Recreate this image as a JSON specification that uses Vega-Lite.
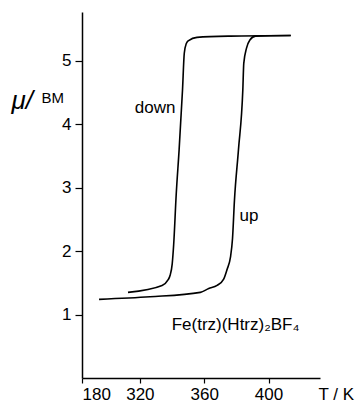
{
  "$schema": "https://vega.github.io/schema/vega-lite/v6.json",
  "autosize": "none",
  "width": 238,
  "height": 366,
  "padding": {"left": 82, "top": 12, "right": 36, "bottom": 25},
  "background": "white",
  "config": {
    "view": {"stroke": null},
    "font": "Liberation Sans",
    "axis": {"grid": false, "domainColor": "black", "tickColor": "black", "labelColor": "black", "titleColor": "black", "labelFont": "Liberation Sans", "titleFont": "Liberation Sans", "domainWidth": 1.5, "tickWidth": 1.2}
  },
  "datasets": {
    "curves": [
      {"branch": "down", "i": 1, "T": 312.6, "mu": 1.35},
      {"branch": "down", "i": 2, "T": 333.8, "mu": 1.46},
      {"branch": "down", "i": 3, "T": 337.6, "mu": 1.55},
      {"branch": "down", "i": 4, "T": 338.8, "mu": 1.62},
      {"branch": "down", "i": 5, "T": 340.1, "mu": 1.8},
      {"branch": "down", "i": 6, "T": 341.0, "mu": 2.1},
      {"branch": "down", "i": 7, "T": 342.6, "mu": 2.9},
      {"branch": "down", "i": 8, "T": 344.4, "mu": 3.6},
      {"branch": "down", "i": 9, "T": 346.5, "mu": 4.54},
      {"branch": "down", "i": 10, "T": 347.6, "mu": 5.12},
      {"branch": "down", "i": 11, "T": 348.8, "mu": 5.27},
      {"branch": "down", "i": 12, "T": 350.3, "mu": 5.32},
      {"branch": "down", "i": 13, "T": 355.5, "mu": 5.37},
      {"branch": "down", "i": 14, "T": 376.3, "mu": 5.39},
      {"branch": "down", "i": 15, "T": 413.8, "mu": 5.4},
      {"branch": "up", "i": 1, "T": 294.6, "mu": 1.24},
      {"branch": "up", "i": 2, "T": 326.3, "mu": 1.28},
      {"branch": "up", "i": 3, "T": 357.6, "mu": 1.35},
      {"branch": "up", "i": 4, "T": 362.8, "mu": 1.41},
      {"branch": "up", "i": 5, "T": 368.0, "mu": 1.46},
      {"branch": "up", "i": 6, "T": 372.1, "mu": 1.56},
      {"branch": "up", "i": 7, "T": 374.3, "mu": 1.72},
      {"branch": "up", "i": 8, "T": 376.3, "mu": 1.9},
      {"branch": "up", "i": 9, "T": 377.6, "mu": 2.2},
      {"branch": "up", "i": 10, "T": 378.8, "mu": 2.8},
      {"branch": "up", "i": 11, "T": 381.3, "mu": 3.6},
      {"branch": "up", "i": 12, "T": 384.0, "mu": 4.54},
      {"branch": "up", "i": 13, "T": 384.6, "mu": 4.96},
      {"branch": "up", "i": 14, "T": 386.3, "mu": 5.2},
      {"branch": "up", "i": 15, "T": 388.4, "mu": 5.33},
      {"branch": "up", "i": 16, "T": 391.9, "mu": 5.39},
      {"branch": "up", "i": 17, "T": 413.8, "mu": 5.4}
    ]
  },
  "layer": [
    {
      "data": {"name": "curves"},
      "mark": {"type": "line", "color": "black", "strokeWidth": 1.6, "interpolate": "monotone"},
      "encoding": {
        "x": {
          "field": "T", "type": "quantitative",
          "scale": {"domain": [284, 432], "nice": false, "zero": false},
          "axis": {
            "values": [284, 320, 360, 400],
            "labelExpr": "datum.value == 284 ? '180' : datum.label",
            "labelFontSize": 17, "tickSize": 5, "labelPadding": 3,
            "title": "T / K", "titleFontSize": 17, "titleFontWeight": "normal",
            "titleAnchor": "start", "titleAlign": "left", "titleX": 236, "titleY": 21, "titleBaseline": "alphabetic"
          }
        },
        "y": {
          "field": "mu", "type": "quantitative",
          "scale": {"domain": [0, 5.77], "nice": false},
          "axis": {
            "values": [1, 2, 3, 4, 5], "format": "d",
            "labelFontSize": 17, "tickSize": 7, "labelPadding": 4,
            "title": "μ/", "titleFontSize": 26, "titleFontStyle": "italic", "titleFontWeight": "normal",
            "titleAngle": 0, "titleAlign": "left", "titleBaseline": "middle", "titleX": -71, "titleY": 88
          }
        },
        "detail": {"field": "branch"},
        "order": {"field": "i"}
      }
    },
    {
      "data": {"values": [{"T": 329.5, "mu": 4.26, "label": "down"}]},
      "mark": {"type": "text", "fontSize": 17, "align": "center", "baseline": "middle", "color": "black"},
      "encoding": {"x": {"field": "T", "type": "quantitative"}, "y": {"field": "mu", "type": "quantitative"}, "text": {"field": "label"}}
    },
    {
      "data": {"values": [{"T": 382.0, "mu": 2.56, "label": "up"}]},
      "mark": {"type": "text", "fontSize": 17, "align": "left", "baseline": "middle", "color": "black"},
      "encoding": {"x": {"field": "T", "type": "quantitative"}, "y": {"field": "mu", "type": "quantitative"}, "text": {"field": "label"}}
    },
    {
      "data": {"values": [{"T": 339.75, "mu": 0.764, "label": "Fe(trz)(Htrz)₂BF₄"}]},
      "mark": {"type": "text", "fontSize": 17, "align": "left", "baseline": "alphabetic", "color": "black"},
      "encoding": {"x": {"field": "T", "type": "quantitative"}, "y": {"field": "mu", "type": "quantitative"}, "text": {"field": "label"}}
    },
    {
      "data": {"values": [{"T": 258.8, "mu": 4.42, "label": "BM"}]},
      "mark": {"type": "text", "fontSize": 15, "align": "left", "baseline": "middle", "color": "black"},
      "encoding": {"x": {"field": "T", "type": "quantitative"}, "y": {"field": "mu", "type": "quantitative"}, "text": {"field": "label"}}
    }
  ]
}
